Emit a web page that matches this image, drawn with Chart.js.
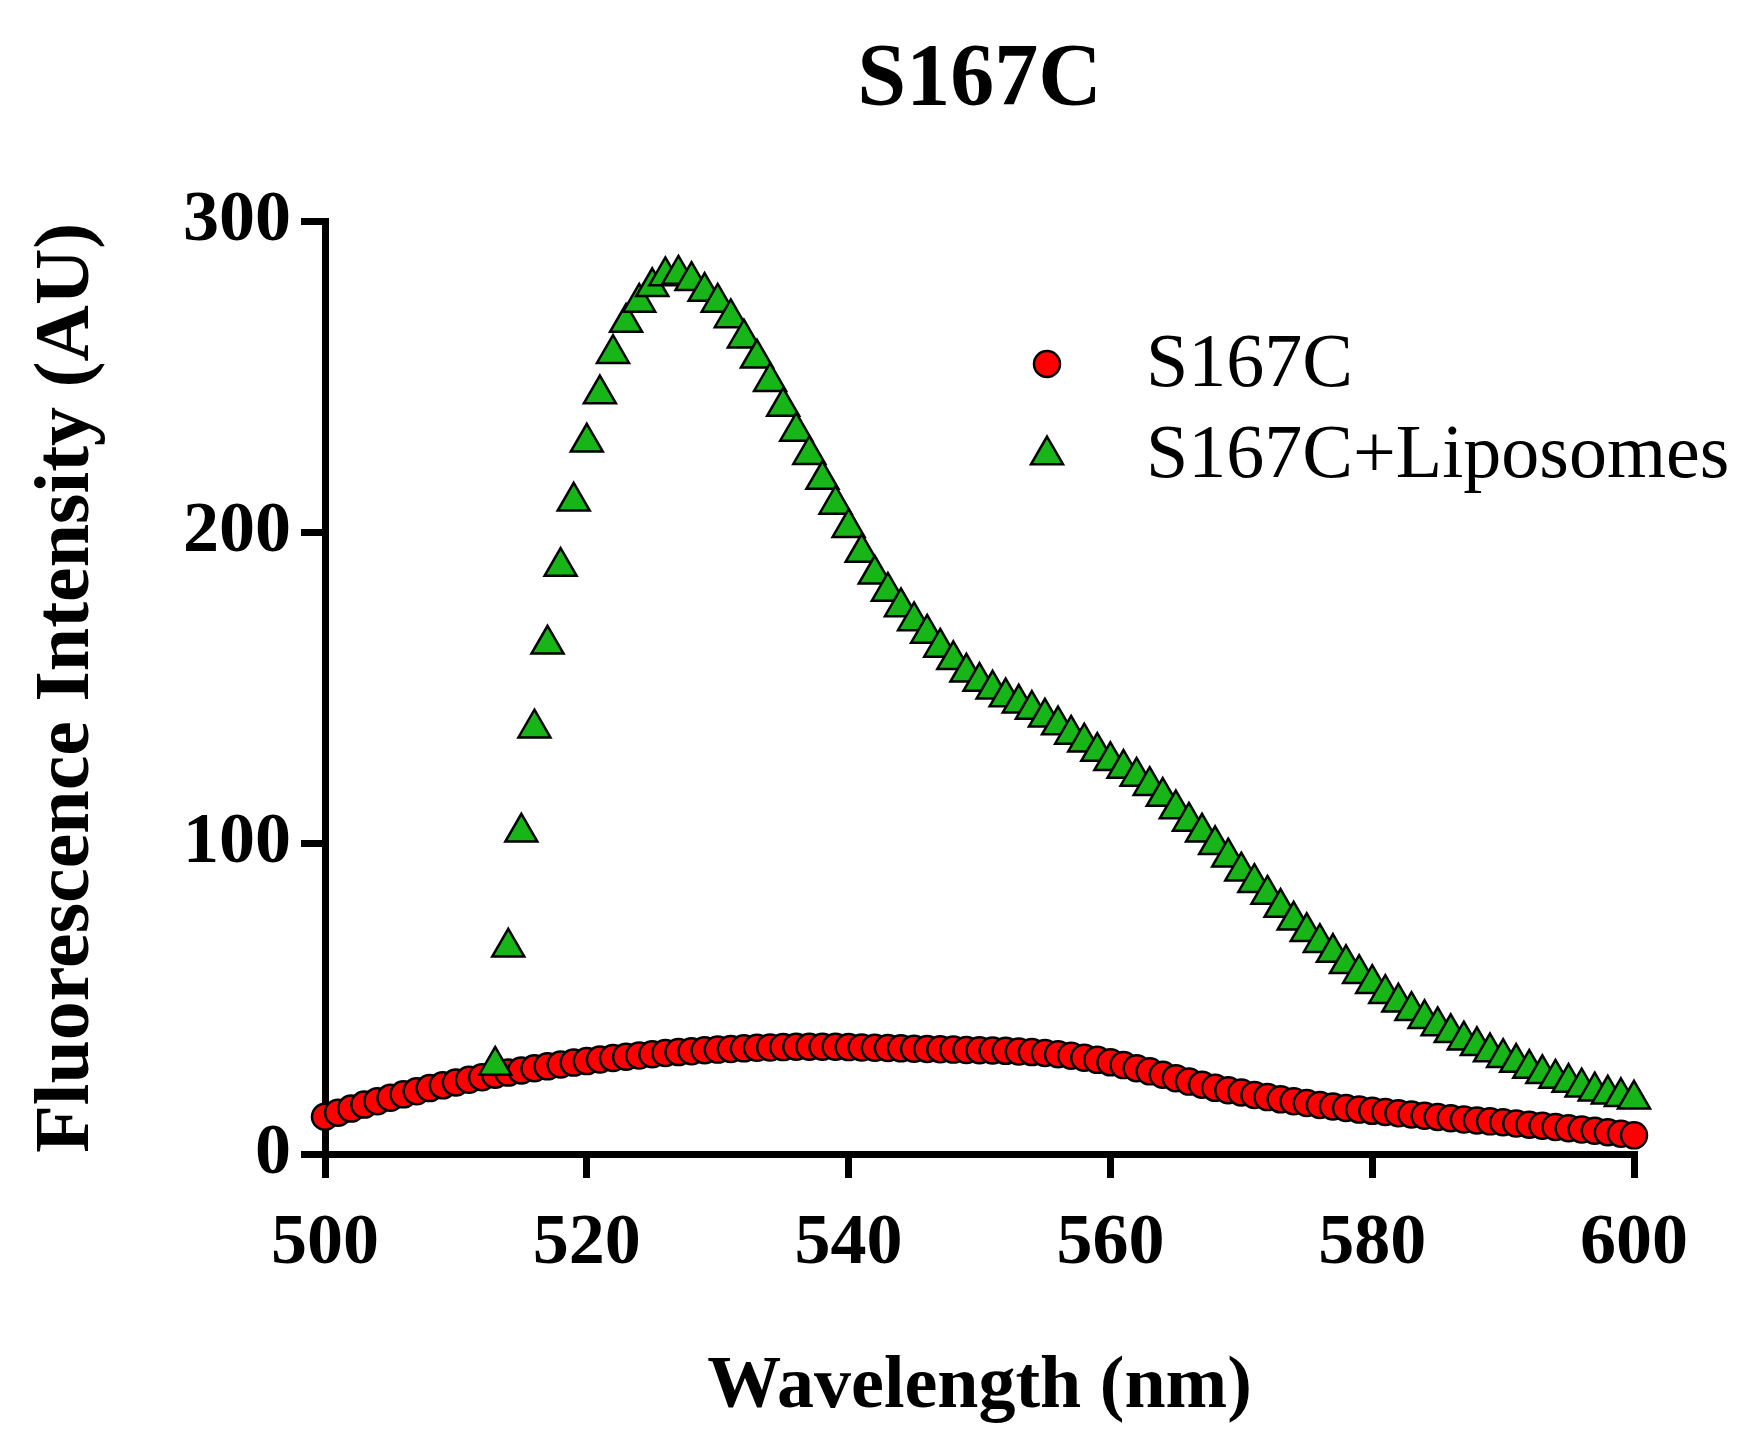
<!DOCTYPE html>
<html>
<head>
<meta charset="utf-8">
<script src="https://cdn.jsdelivr.net/npm/chart.js@4.4.1/dist/chart.umd.min.js"></script>
<style>
  html, body { margin: 0; padding: 0; background: #ffffff; }
  #wrap { width: 1740px; height: 1445px; }
</style>
</head>
<body>
<div id="wrap"><canvas id="c" width="1740" height="1445"></canvas></div>
<script>
const chartTitle = 'S167C';
const xAxisTitle = 'Wavelength (nm)';
const yAxisTitle = 'Fluorescence Intensity (AU)';
const seriesNames = ['S167C', 'S167C+Liposomes'];

const wavelengths = [
  500,501,502,503,504,505,506,507,508,509,
  510,511,512,513,514,515,516,517,518,519,
  520,521,522,523,524,525,526,527,528,529,
  530,531,532,533,534,535,536,537,538,539,
  540,541,542,543,544,545,546,547,548,549,
  550,551,552,553,554,555,556,557,558,559,
  560,561,562,563,564,565,566,567,568,569,
  570,571,572,573,574,575,576,577,578,579,
  580,581,582,583,584,585,586,587,588,589,
  590,591,592,593,594,595,596,597,598,599,
  600
];

const s167c = [
  12, 13.3, 14.6, 15.9, 17.0, 18.1, 19.2, 20.2, 21.2, 22.1,
  23.0, 23.9, 24.7, 25.5, 26.2, 26.9, 27.6, 28.2, 28.8, 29.4,
  29.9, 30.4, 30.9, 31.3, 31.7, 32.1, 32.5, 32.8, 33.1, 33.4,
  33.6, 33.8, 34.0, 34.2, 34.3, 34.4, 34.5, 34.5, 34.5, 34.5,
  34.4, 34.3, 34.2, 34.1, 34.0, 33.9, 33.8, 33.7, 33.6, 33.5,
  33.4, 33.3, 33.2, 33.0, 32.8, 32.5, 32.1, 31.6, 31.0, 30.3,
  29.5, 28.6, 27.6, 26.6, 25.5, 24.4, 23.3, 22.3, 21.3, 20.5,
  19.8, 19.0, 18.3, 17.6, 17.0, 16.4, 15.8, 15.3, 14.8, 14.3,
  13.9, 13.5, 13.1, 12.7, 12.3, 11.9, 11.5, 11.1, 10.8, 10.5,
  10.2, 9.8, 9.4, 9.1, 8.7, 8.3, 7.9, 7.5, 7.0, 6.5,
  6.0
];

const s167cLiposomes = [
  null, null, null, null, null, null, null, null, null, null,
  null, null, null, 28.5, 66.5, 103.5, 137, 164, 189, 210,
  229, 244.5, 257.5, 267.5, 274, 279, 282.5, 283, 281, 277.5,
  274, 269, 262.5, 256, 248.5, 240.5, 232.5, 225, 217, 209,
  201.5, 193.5, 186.5, 181, 176, 171.5, 167.5, 163, 159, 155,
  152, 149.5, 147, 145, 143, 140.5, 138, 135, 132.5, 129.5,
  126.5, 124, 121.5, 118.5, 115, 111, 107, 103.5, 99.5, 95.5,
  91, 87.3, 83.5, 79.3, 75.2, 71.5, 68, 64.8, 61.2, 58,
  54.8, 51.6, 48.8, 46.1, 43.5, 41.2, 39, 36.6, 34.8, 32.8,
  31, 29.4, 27.5, 25.8, 24.3, 23, 21.5, 20.2, 19.2, 18.4,
  17.6
];

const xTicks = [500, 520, 540, 560, 580, 600];
const yTicks = [0, 100, 200, 300];

function toPoints(xs, ys) {
  const out = [];
  for (let i = 0; i < xs.length; i++) {
    if (ys[i] !== null && ys[i] !== undefined) out.push({ x: xs[i], y: ys[i] });
  }
  return out;
}

const SERIF = "'Liberation Serif', 'Times New Roman', Times, serif";

const centerTitlePlugin = {
  id: 'centerTitle',
  afterLayout(chart) {
    const tb = chart.titleBlock;
    if (tb && chart.chartArea) {
      tb.left = chart.chartArea.left;
      tb.right = chart.chartArea.right;
      tb.width = tb.right - tb.left;
    }
  }
};

const legendPlugin = {
  id: 'insideLegend',
  afterDatasetsDraw(chart) {
    const ctx = chart.ctx;
    const rows = [
      { ds: chart.data.datasets[1], y: 364 },
      { ds: chart.data.datasets[0], y: 455 }
    ];
    ctx.save();
    rows.forEach(r => {
      const ds = r.ds;
      const opts = {
        pointStyle: ds.pointStyle,
        radius: ds.pointRadius,
        borderWidth: ds.borderWidth,
        rotation: 0
      };
      ctx.fillStyle = ds.backgroundColor;
      ctx.strokeStyle = ds.borderColor;
      ctx.lineWidth = ds.borderWidth;
      Chart.helpers.drawPoint(ctx, opts, 1047, r.y);
      ctx.fillStyle = '#000000';
      ctx.font = "76px " + SERIF;
      ctx.textAlign = 'left';
      ctx.textBaseline = 'middle';
      ctx.fillText(ds.label, 1146, r.y + 2);
    });
    ctx.restore();
  }
};

const ctx = document.getElementById('c').getContext('2d');
new Chart(ctx, {
  type: 'scatter',
  data: {
    datasets: [
      {
        label: seriesNames[1],
        data: toPoints(wavelengths, s167cLiposomes),
        pointStyle: 'triangle',
        pointRadius: 18.5,
        pointHoverRadius: 18.5,
        backgroundColor: '#17b517',
        borderColor: '#000000',
        borderWidth: 2.5,
        showLine: false,
        clip: false,
        order: 0
      },
      {
        label: seriesNames[0],
        data: toPoints(wavelengths, s167c),
        pointStyle: 'circle',
        pointRadius: 13,
        pointHoverRadius: 13,
        backgroundColor: '#ff0000',
        borderColor: '#000000',
        borderWidth: 2.5,
        showLine: false,
        clip: false,
        order: 1
      }
    ]
  },
  options: {
    responsive: false,
    animation: false,
    devicePixelRatio: 1,
    events: [],
    layout: { padding: { top: 0, left: 0, right: 106, bottom: 0 } },
    plugins: {
      legend: { display: false },
      tooltip: { enabled: false },
      title: {
        display: true,
        text: chartTitle,
        color: '#000000',
        font: { family: SERIF, size: 88, weight: 'bold', lineHeight: 1.2 },
        padding: { top: 28, bottom: 88 }
      }
    },
    scales: {
      x: {
        type: 'linear',
        min: 500,
        max: 600,
        afterFit(scale) { scale.height = 291; },
        afterBuildTicks(scale) { scale.ticks = xTicks.map(v => ({ value: v })); },
        border: { display: true, color: '#000000', width: 7 },
        grid: {
          drawOnChartArea: false,
          drawTicks: true,
          tickLength: 24,
          lineWidth: 7,
          color: '#000000'
        },
        ticks: {
          color: '#000000',
          padding: 23,
          maxRotation: 0,
          font: { family: SERIF, size: 72, weight: 'bold', lineHeight: 1.2 }
        },
        title: {
          display: true,
          text: xAxisTitle,
          color: '#000000',
          font: { family: SERIF, size: 74, weight: 'bold', lineHeight: 1.2 },
          padding: { top: 0, bottom: 13 }
        }
      },
      y: {
        type: 'linear',
        min: 0,
        max: 300,
        afterFit(scale) { scale.width = 325; },
        afterBuildTicks(scale) { scale.ticks = yTicks.map(v => ({ value: v })); },
        border: { display: true, color: '#000000', width: 7 },
        grid: {
          drawOnChartArea: false,
          drawTicks: true,
          tickLength: 24,
          lineWidth: 7,
          color: '#000000'
        },
        ticks: {
          color: '#000000',
          padding: 10,
          font: { family: SERIF, size: 72, weight: 'bold', lineHeight: 1.2 }
        },
        title: {
          display: true,
          text: yAxisTitle,
          color: '#000000',
          font: { family: SERIF, size: 78, weight: 'bold', lineHeight: 1.2 },
          padding: { top: 21, bottom: 0 }
        }
      }
    }
  },
  plugins: [centerTitlePlugin, legendPlugin]
});
</script>
</body>
</html>
